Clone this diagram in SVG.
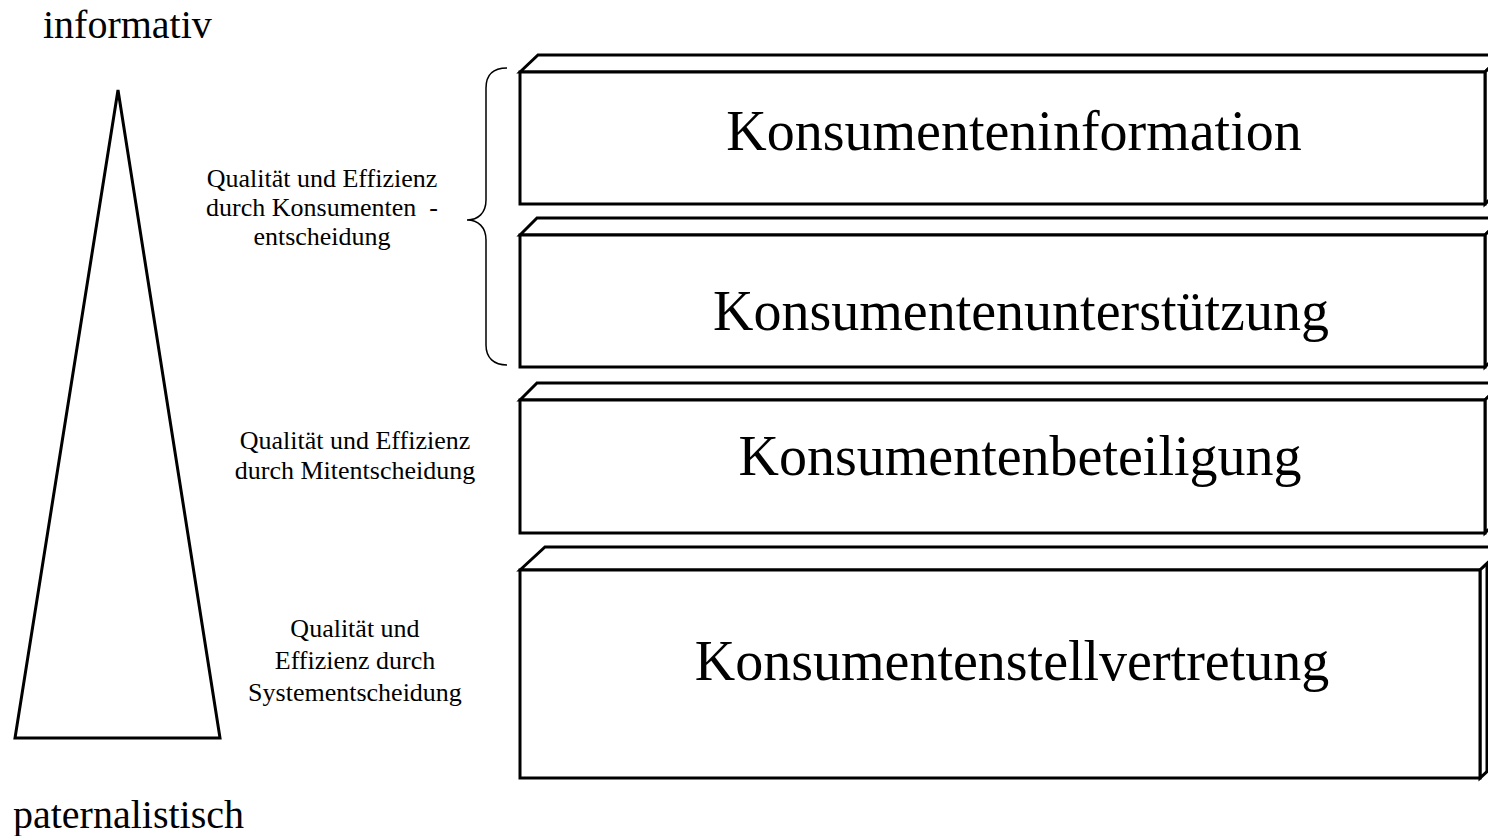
<svg xmlns="http://www.w3.org/2000/svg" width="1488" height="836" viewBox="0 0 1488 836">
<style>
.box{fill:#fff;stroke:#000;stroke-width:3;stroke-linejoin:miter}
.main{font-family:"Liberation Serif",serif;font-size:56px;fill:#000;text-anchor:middle}
.lbl{font-family:"Liberation Serif",serif;font-size:26px;fill:#000;text-anchor:middle}
.axis{font-family:"Liberation Serif",serif;font-size:40px;fill:#000}
</style>
<rect width="1488" height="836" fill="#fff"/>
<g id="triangle">
<polygon points="118,90 15,738 220,738" fill="#fff" stroke="#000" stroke-width="3"/>
</g>
<g id="axis-labels">
<text class="axis" x="43" y="38">informativ</text>
<text class="axis" x="13" y="828">paternalistisch</text>
</g>
<g id="brace">
<path d="M507,68 C494,68 486,74 486,88 L486,200 C486,213 478,220 467,220 C478,220 486,227 486,240 L486,345 C486,358 494,365 507,365" fill="none" stroke="#000" stroke-width="1.5"/>
</g>
<g id="label-1">
<text class="lbl" x="322" y="187">Qualität und Effizienz</text>
<text class="lbl" x="322" y="216" xml:space="preserve">durch Konsumenten  -</text>
<text class="lbl" x="322" y="245">entscheidung</text>
</g>
<g id="label-2">
<text class="lbl" x="355" y="449">Qualität und Effizienz</text>
<text class="lbl" x="355" y="479">durch Mitentscheidung</text>
</g>
<g id="label-3">
<text class="lbl" x="355" y="637">Qualität und</text>
<text class="lbl" x="355" y="669">Effizienz durch</text>
<text class="lbl" x="355" y="701">Systementscheidung</text>
</g>
<g id="box-1">
<polygon class="box" points="520,72 538,55 1503,55 1485,72"/>
<polygon class="box" points="1485,72 1503,55 1503,187 1485,204"/>
<rect class="box" x="520" y="72" width="965" height="132"/>
<text class="main" x="1014" y="150">Konsumenteninformation</text>
</g>
<g id="box-2">
<polygon class="box" points="520,235 537,218 1502,218 1485,235"/>
<polygon class="box" points="1485,235 1502,218 1502,350 1485,367"/>
<rect class="box" x="520" y="235" width="965" height="132"/>
<text class="main" x="1021" y="330">Konsumentenunterstützung</text>
</g>
<g id="box-3">
<polygon class="box" points="520,400 537,383 1502,383 1485,400"/>
<polygon class="box" points="1485,400 1502,383 1502,516 1485,533"/>
<rect class="box" x="520" y="400" width="965" height="133"/>
<text class="main" x="1020" y="475">Konsumentenbeteiligung</text>
</g>
<g id="box-4">
<polygon class="box" points="520,570 545,547 1505,547 1480,570"/>
<polygon class="box" points="1480,570 1505,547 1505,755 1480,778"/>
<rect class="box" x="520" y="570" width="960" height="208"/>
<line x1="1487" y1="563" x2="1487" y2="772" stroke="#000" stroke-width="3"/>
<text class="main" x="1012" y="680">Konsumentenstellvertretung</text>
</g>
</svg>
